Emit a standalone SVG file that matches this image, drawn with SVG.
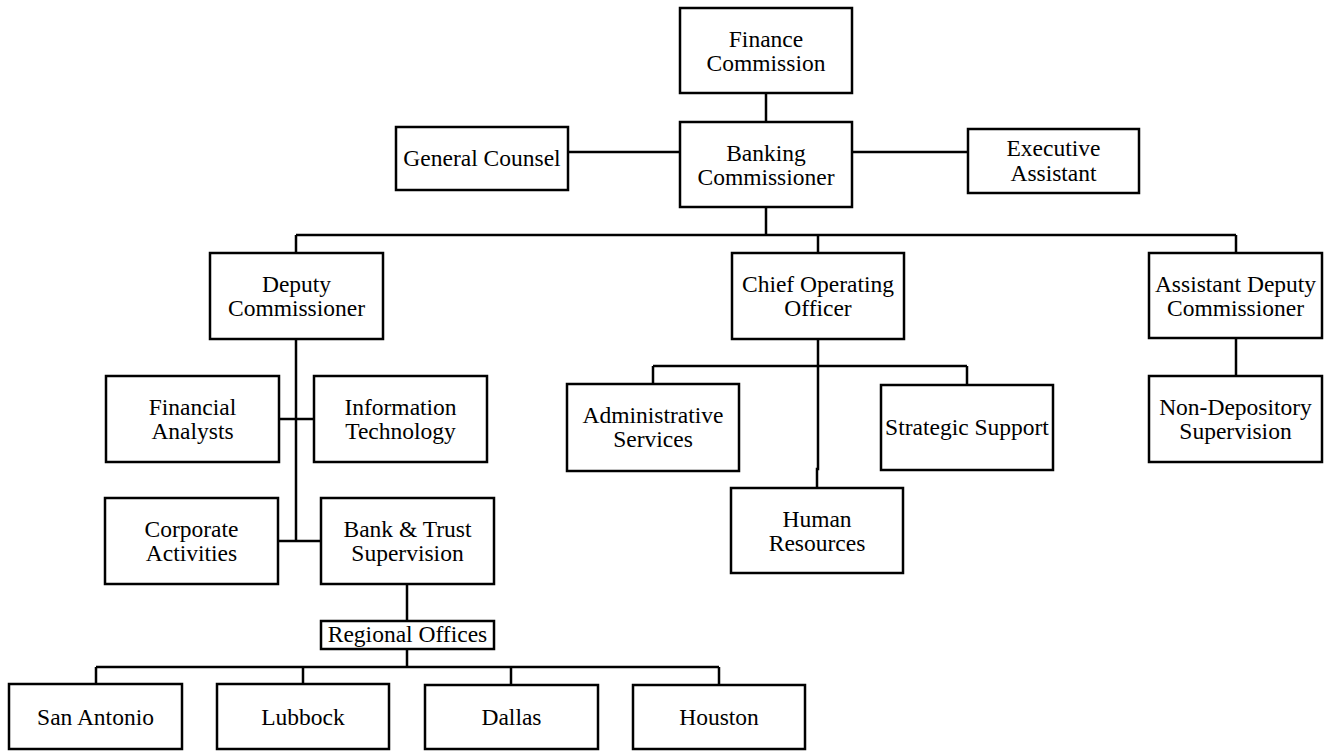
<svg xmlns="http://www.w3.org/2000/svg" width="1336" height="752" viewBox="0 0 1336 752">
<style>
.box{fill:#fff;stroke:#000;stroke-width:2.5}
.ln{fill:none;stroke:#000;stroke-width:2.5}
text{font-family:"Liberation Serif","Times New Roman",serif;font-size:23.5px;fill:#000;text-anchor:middle}
</style>
<rect width="1336" height="752" fill="#fff"/>
<g id="connectors">
<path class="ln" d="M766 93V122M568 152H680M852 152H968M766 207V235M296 235H1236M296 235V253M818 235V253M1236 235V253M1236 338V376M296 339V541M279 419H314M278 541H321M818 339V469H817V488M653 366H967M653 366V384M967 366V385M407 584V621M407 649V667M96 667H719M96 667V684M303 667V684M511 667V685M719 667V685"/>
</g>
<g id="finance-commission"><rect class="box" x="680" y="8" width="172" height="85"/><text x="766" y="47">Finance</text><text x="766" y="71">Commission</text></g>
<g id="banking-commissioner"><rect class="box" x="680" y="122" width="172" height="85"/><text x="766" y="161">Banking</text><text x="766" y="185">Commissioner</text></g>
<g id="general-counsel"><rect class="box" x="396" y="127" width="172" height="63"/><text x="482" y="166">General Counsel</text></g>
<g id="executive-assistant"><rect class="box" x="968" y="129" width="171" height="64"/><text x="1053.5" y="156">Executive</text><text x="1053.5" y="181">Assistant</text></g>
<g id="deputy-commissioner"><rect class="box" x="210" y="253" width="173" height="86"/><text x="296.5" y="292">Deputy</text><text x="296.5" y="316">Commissioner</text></g>
<g id="chief-operating-officer"><rect class="box" x="732" y="253" width="172" height="86"/><text x="818" y="292">Chief Operating</text><text x="818" y="316">Officer</text></g>
<g id="assistant-deputy-commissioner"><rect class="box" x="1149" y="253" width="173" height="85"/><text x="1235.5" y="292">Assistant Deputy</text><text x="1235.5" y="316">Commissioner</text></g>
<g id="financial-analysts"><rect class="box" x="106" y="376" width="173" height="86"/><text x="192.5" y="415">Financial</text><text x="192.5" y="439">Analysts</text></g>
<g id="information-technology"><rect class="box" x="314" y="376" width="173" height="86"/><text x="400.5" y="415">Information</text><text x="400.5" y="439">Technology</text></g>
<g id="administrative-services"><rect class="box" x="567" y="384" width="172" height="87"/><text x="653" y="423">Administrative</text><text x="653" y="447">Services</text></g>
<g id="strategic-support"><rect class="box" x="881" y="385" width="172" height="85"/><text x="967" y="435">Strategic Support</text></g>
<g id="non-depository-supervision"><rect class="box" x="1149" y="376" width="173" height="86"/><text x="1235.5" y="415">Non-Depository</text><text x="1235.5" y="439">Supervision</text></g>
<g id="human-resources"><rect class="box" x="731" y="488" width="172" height="85"/><text x="817" y="527">Human</text><text x="817" y="551">Resources</text></g>
<g id="corporate-activities"><rect class="box" x="105" y="498" width="173" height="86"/><text x="191.5" y="537">Corporate</text><text x="191.5" y="561">Activities</text></g>
<g id="bank-trust-supervision"><rect class="box" x="321" y="498" width="173" height="86"/><text x="407.5" y="537">Bank &amp; Trust</text><text x="407.5" y="561">Supervision</text></g>
<g id="regional-offices"><rect class="box" x="321" y="621" width="173" height="28"/><text x="407.5" y="642">Regional Offices</text></g>
<g id="san-antonio"><rect class="box" x="9" y="684" width="173" height="65"/><text x="95.5" y="725">San Antonio</text></g>
<g id="lubbock"><rect class="box" x="217" y="684" width="172" height="65"/><text x="303" y="725">Lubbock</text></g>
<g id="dallas"><rect class="box" x="425" y="685" width="173" height="64"/><text x="511.5" y="725">Dallas</text></g>
<g id="houston"><rect class="box" x="633" y="685" width="172" height="64"/><text x="719" y="725">Houston</text></g>
</svg>
